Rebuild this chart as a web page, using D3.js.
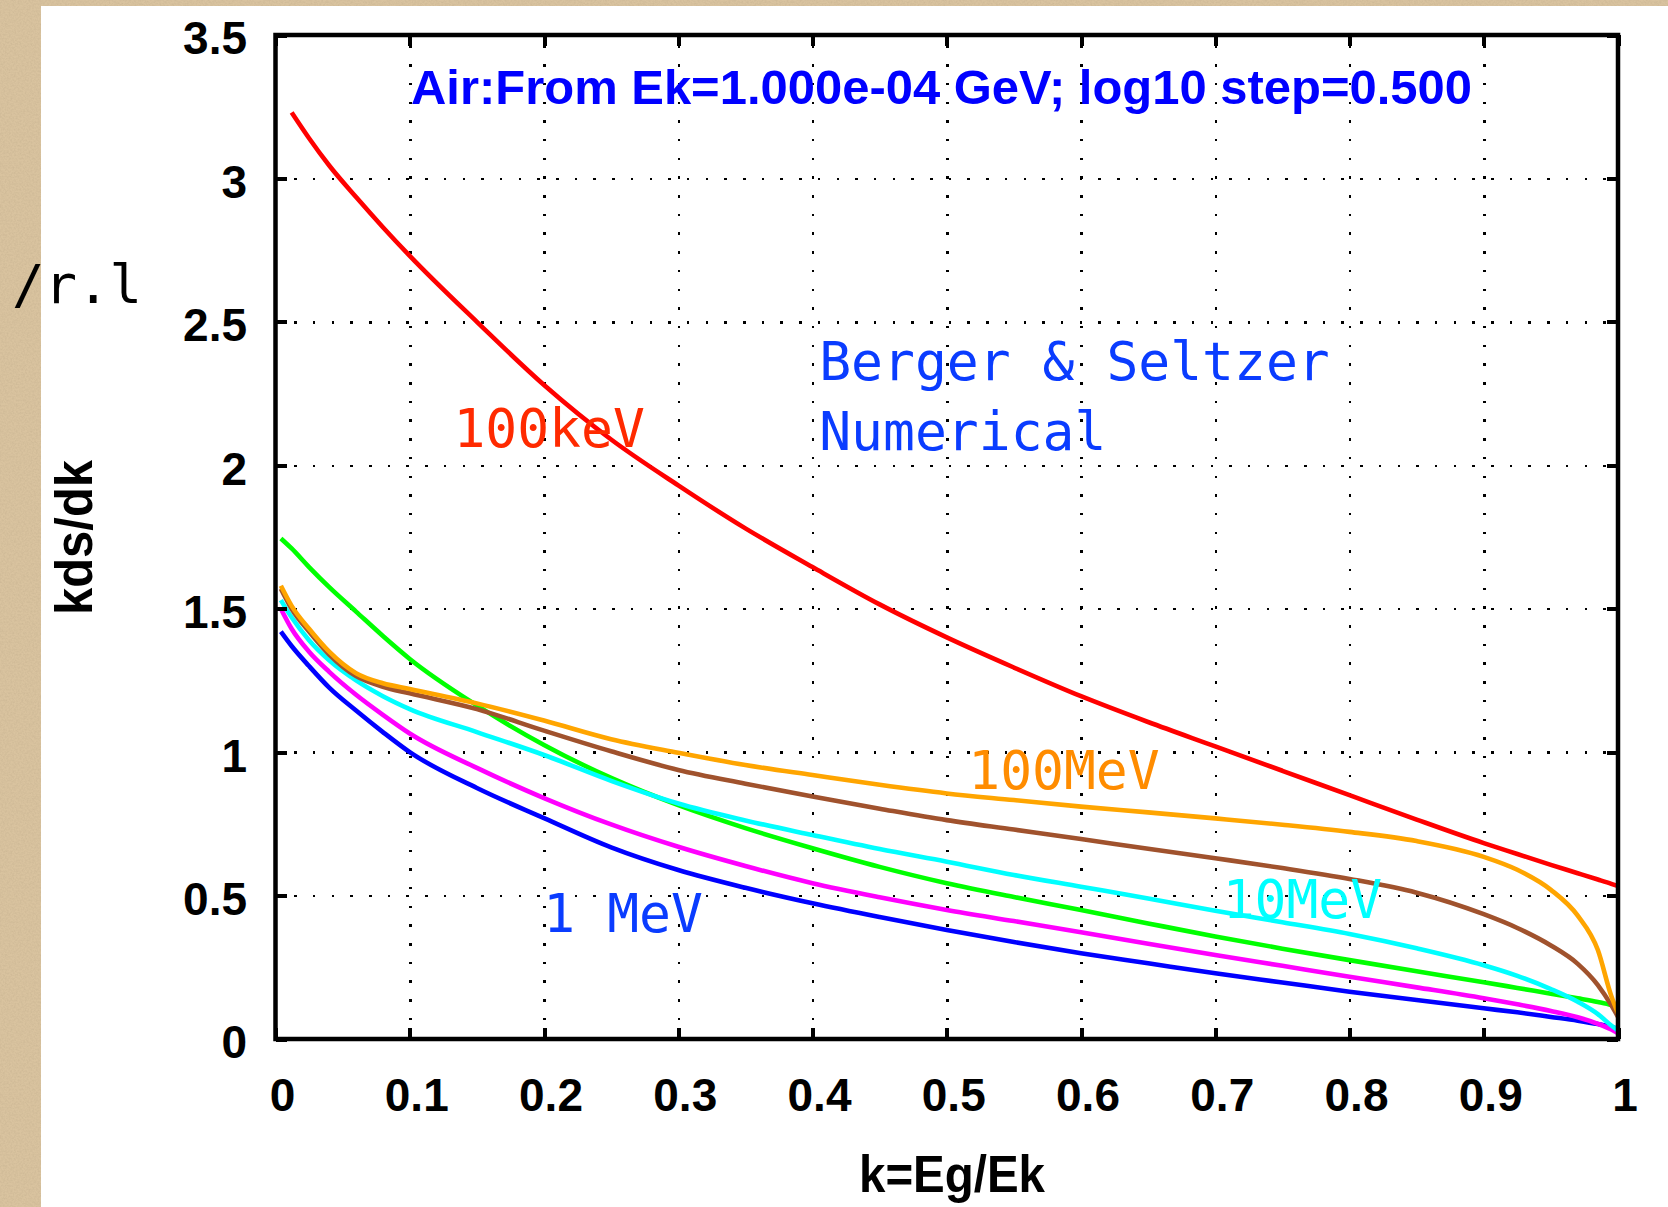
<!DOCTYPE html>
<html>
<head>
<meta charset="utf-8">
<script src="https://cdn.jsdelivr.net/npm/d3@7"></script>
<style>
  html, body { margin: 0; padding: 0; background: #ffffff; overflow: hidden; }
  svg { display: block; }
</style>
</head>
<body>
<svg id="chart" width="1668" height="1207"></svg>
<script>
// Photon energy fraction k = Eg/Ek at which the spectra are sampled
const kValues = [0.004, 0.012, 0.025, 0.04, 0.06, 0.08, 0.1, 0.15, 0.2, 0.25, 0.3, 0.35, 0.4, 0.45, 0.5,
                 0.55, 0.6, 0.65, 0.7, 0.75, 0.8, 0.85, 0.9, 0.925, 0.95, 0.97, 0.985, 0.995, 1.0];

// k dsigma/dk per radiation length in air, one array per electron kinetic energy
const dsdk100keV = [null, 3.23, 3.14, 3.045, 2.935, 2.83, 2.73, 2.50, 2.28, 2.09, 1.93, 1.78, 1.645, 1.515, 1.40,
                    1.295, 1.195, 1.105, 1.02, 0.935, 0.85, 0.765, 0.683, 0.645, 0.607, 0.578, 0.556, 0.541, 0.533];
const dsdk316keV = [1.745, 1.71, 1.645, 1.575, 1.49, 1.405, 1.325, 1.163, 1.025, 0.91, 0.815, 0.735, 0.665, 0.60, 0.543,
                    0.495, 0.45, 0.403, 0.357, 0.315, 0.275, 0.236, 0.198, 0.178, 0.158, 0.142, 0.129, 0.118, 0.11];
const dsdk1MeV   = [1.42, 1.37, 1.30, 1.225, 1.145, 1.07, 1.0, 0.875, 0.77, 0.668, 0.589, 0.527, 0.473, 0.425, 0.38,
                    0.338, 0.299, 0.264, 0.229, 0.197, 0.165, 0.136, 0.107, 0.093, 0.077, 0.064, 0.052, 0.042, 0.035];
const dsdk3MeV   = [1.50, 1.43, 1.35, 1.28, 1.20, 1.13, 1.065, 0.945, 0.84, 0.748, 0.67, 0.603, 0.543, 0.494, 0.45,
                    0.411, 0.372, 0.332, 0.293, 0.255, 0.217, 0.18, 0.142, 0.121, 0.098, 0.076, 0.053, 0.033, 0.02];
const dsdk10MeV  = [1.53, 1.47, 1.39, 1.32, 1.25, 1.195, 1.15, 1.07, 0.99, 0.90, 0.821, 0.762, 0.711, 0.662, 0.618,
                    0.572, 0.531, 0.49, 0.447, 0.407, 0.366, 0.316, 0.257, 0.22, 0.174, 0.13, 0.087, 0.047, 0.03];
const dsdk32MeV  = [1.57, 1.50, 1.42, 1.34, 1.265, 1.228, 1.205, 1.15, 1.075, 1.003, 0.938, 0.89, 0.845, 0.803, 0.763,
                    0.73, 0.697, 0.663, 0.63, 0.596, 0.558, 0.51, 0.435, 0.387, 0.326, 0.262, 0.188, 0.118, 0.077];
const dsdk100MeV = [1.58, 1.51, 1.43, 1.35, 1.275, 1.24, 1.22, 1.17, 1.11, 1.045, 0.998, 0.955, 0.92, 0.886, 0.856,
                    0.833, 0.81, 0.79, 0.769, 0.747, 0.722, 0.69, 0.635, 0.59, 0.52, 0.43, 0.31, 0.15, 0.09];

// Axis tick values
const xTickValues = [0, 0.1, 0.2, 0.3, 0.4, 0.5, 0.6, 0.7, 0.8, 0.9, 1];
const yTickValues = [0, 0.5, 1, 1.5, 2, 2.5, 3, 3.5];
const xTickLabels = ["0", "0.1", "0.2", "0.3", "0.4", "0.5", "0.6", "0.7", "0.8", "0.9", "1"];
const yTickLabels = ["0", "0.5", "1", "1.5", "2", "2.5", "3", "3.5"];

// Curve labels: text and anchor point in data coordinates (k, value)
const curveLabelText = ["100keV", "100MeV", "10MeV", "1 MeV"];
const curveLabelK    = [0.1325, 0.516, 0.7055, 0.1995];
const curveLabelV    = [2.063, 0.873, 0.4217, 0.373];

const titleText = "Air:From Ek=1.000e-04 GeV; log10 step=0.500";

// ---------------------------------------------------------------------------
const svg = d3.select("#chart");
const W = 1668, H = 1207;
const plot = { left: 275.5, right: 1618, top: 35, bottom: 1039 };
const pw = plot.right - plot.left, ph = plot.bottom - plot.top;

// textured tan backdrop with the white card on top
const defs = svg.append("defs");
const grain = defs.append("filter").attr("id", "grain").attr("x", 0).attr("y", 0)
  .attr("width", "100%").attr("height", "100%");
grain.append("feTurbulence").attr("type", "fractalNoise").attr("baseFrequency", 0.55)
  .attr("numOctaves", 3).attr("seed", 7).attr("result", "n");
grain.append("feColorMatrix").attr("in", "n").attr("type", "matrix")
  .attr("values", "0 0 0 0 0.55  0 0 0 0 0.43  0 0 0 0 0.27  0.9 0 0 0 -0.3");

svg.append("rect").attr("width", W).attr("height", H).attr("fill", "#d9c39f");
svg.append("rect").attr("width", W).attr("height", H).attr("fill", "#000").attr("filter", "url(#grain)");
svg.append("rect").attr("x", 41).attr("y", 6).attr("width", W - 41).attr("height", H - 6).attr("fill", "#ffffff");

const x = d3.scaleLinear().domain([0, 1]).range([plot.left, plot.right]);
const y = d3.scaleLinear().domain([0, 3.5]).range([plot.bottom, plot.top]);

// dotted grid
const gridX = svg.append("g").attr("transform", `translate(0,${plot.bottom})`)
  .call(d3.axisBottom(x).tickValues(xTickValues.slice(1, -1)).tickSize(-ph).tickFormat(""));
const gridY = svg.append("g").attr("transform", `translate(${plot.left},0)`)
  .call(d3.axisLeft(y).tickValues(yTickValues.slice(1, -1)).tickSize(-pw).tickFormat(""));
[gridX, gridY].forEach(g => {
  g.select(".domain").remove();
  g.selectAll("line").attr("stroke", "#000").attr("stroke-width", 2.5)
    .attr("stroke-dasharray", "2.5 16.2").attr("shape-rendering", "crispEdges");
});

// curves, drawn from lowest to highest energy
const seriesValues = [dsdk100keV, dsdk316keV, dsdk1MeV, dsdk3MeV, dsdk10MeV, dsdk32MeV, dsdk100MeV];
const seriesColors = ["#ff0000", "#00ff00", "#0000ff", "#ff00ff", "#00ffff", "#a0522d", "#ffa500"];
const line = d3.line()
  .defined(d => d[1] != null)
  .x(d => x(d[0])).y(d => y(d[1]))
  .curve(d3.curveMonotoneX);
seriesValues.forEach((vals, i) => {
  svg.append("path")
    .datum(kValues.map((k, j) => [k, vals[j]]))
    .attr("d", line)
    .attr("fill", "none")
    .attr("stroke", seriesColors[i])
    .attr("stroke-width", 4.6)
    .attr("stroke-linejoin", "round");
});

// axes with inward ticks on all four sides
const tickLen = 11;
const axB = svg.append("g").attr("transform", `translate(0,${plot.bottom})`)
  .call(d3.axisBottom(x).tickValues(xTickValues).tickSize(-tickLen).tickPadding(39)
    .tickFormat((d, i) => xTickLabels[i]));
const axL = svg.append("g").attr("transform", `translate(${plot.left},0)`)
  .call(d3.axisLeft(y).tickValues(yTickValues).tickSize(-tickLen).tickPadding(28.5)
    .tickFormat((d, i) => yTickLabels[i]));
const axT = svg.append("g").attr("transform", `translate(0,${plot.top})`)
  .call(d3.axisTop(x).tickValues(xTickValues).tickSize(-tickLen).tickFormat(""));
const axR = svg.append("g").attr("transform", `translate(${plot.right},0)`)
  .call(d3.axisRight(y).tickValues(yTickValues).tickSize(-tickLen).tickFormat(""));
[axB, axL, axT, axR].forEach(g => {
  g.select(".domain").remove();
  g.selectAll("line").attr("stroke", "#000").attr("stroke-width", 4).attr("shape-rendering", "crispEdges");
  g.selectAll("text").attr("fill", "#000").attr("font-family", "'Liberation Sans', Arial, sans-serif")
    .attr("font-weight", "bold").attr("font-size", 46);
});
axB.selectAll("text").attr("dx", 6.5);
axL.selectAll("text").attr("dy", "0.41em");

// frame
svg.append("rect").attr("x", plot.left).attr("y", plot.top).attr("width", pw).attr("height", ph)
  .attr("fill", "none").attr("stroke", "#000").attr("stroke-width", 4.5);

// title inside the plot
svg.append("text").attr("x", 411).attr("y", 103.5)
  .attr("font-family", "'Liberation Sans', Arial, sans-serif").attr("font-weight", "bold")
  .attr("font-size", 49).attr("fill", "#0000ff")
  .attr("textLength", 1061).attr("lengthAdjust", "spacingAndGlyphs")
  .text(titleText);

// axis titles
svg.append("text").attr("x", 952).attr("y", 1191.5).attr("text-anchor", "middle")
  .attr("font-family", "'Liberation Sans', Arial, sans-serif").attr("font-weight", "bold")
  .attr("font-size", 52).attr("fill", "#000")
  .attr("textLength", 186).attr("lengthAdjust", "spacingAndGlyphs")
  .text("k=Eg/Ek");
svg.append("text").attr("transform", "translate(91.5,537.5) rotate(-90)").attr("text-anchor", "middle")
  .attr("font-family", "'Liberation Sans', Arial, sans-serif").attr("font-weight", "bold")
  .attr("font-size", 51).attr("fill", "#000")
  .attr("textLength", 155).attr("lengthAdjust", "spacingAndGlyphs")
  .text("kds/dk");
svg.append("text").attr("x", 12).attr("y", 302.5)
  .attr("font-family", "'DejaVu Sans Mono', monospace").attr("font-size", 54).attr("fill", "#000")
  .text("/r.l");

// method note
const mono = "'DejaVu Sans Mono', monospace";
const noteSize = 53;
svg.append("text").attr("x", x(0.405)).attr("y", y(2.297))
  .attr("font-family", mono).attr("font-size", noteSize).attr("fill", "#0a3cff").text("Berger & Seltzer");
svg.append("text").attr("x", x(0.405)).attr("y", y(2.053))
  .attr("font-family", mono).attr("font-size", noteSize).attr("fill", "#0a3cff").text("Numerical");

// curve energy labels
const labelColors = ["#ff2a00", "#ff8c00", "#00ffff", "#0a3cff"];
curveLabelText.forEach((t, i) => {
  svg.append("text").attr("x", x(curveLabelK[i])).attr("y", y(curveLabelV[i]))
    .attr("font-family", mono).attr("font-size", noteSize).attr("fill", labelColors[i]).text(t);
});
</script>
</body>
</html>
